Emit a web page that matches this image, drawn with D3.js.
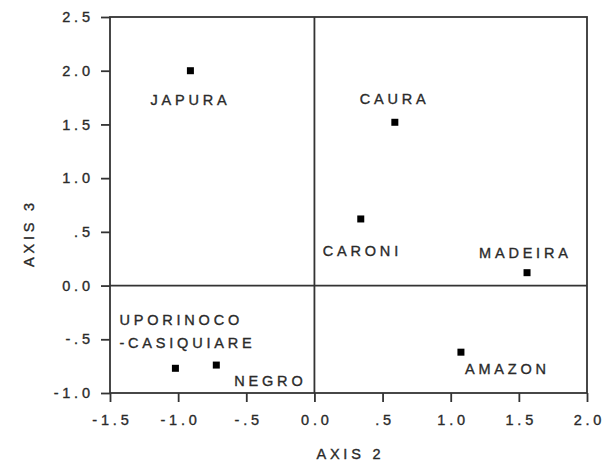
<!DOCTYPE html>
<html><head><meta charset="utf-8">
<script src="https://cdn.jsdelivr.net/npm/d3@7"></script>
<style>body{margin:0;background:#fff}svg{display:block}text{font-family:"Liberation Sans",Arial,sans-serif;fill:#2a2a2a;stroke:#2a2a2a;stroke-width:0.35px}</style>
</head><body><svg id="c" width="613" height="466"></svg>
<script>
const names = ["JAPURA","CAURA","CARONI","MADEIRA","AMAZON","UPORINOCO\n-CASIQUIARE","NEGRO"];
const axis2 = [-0.91, 0.59, 0.34, 1.56, 1.075, -1.02, -0.72];
const axis3 = [2.0, 1.52, 0.62, 0.12, -0.62, -0.77, -0.74];
const xTicks = [-1.5,-1.0,-0.5,0,0.5,1.0,1.5,2.0];
const xTickLabels = ["-1.5","-1.0","-.5","0.0",".5","1.0","1.5","2.0"];
const yTicks = [-1.0,-0.5,0,0.5,1.0,1.5,2.0,2.5];
const yTickLabels = ["-1.0","-.5","0.0",".5","1.0","1.5","2.0","2.5"];
// label layout offsets (px) relative to each point: [dx, dy]
const labelOffsets = [[-40,34],[-35,-18],[-38,37],[-48,-15],[4,22],[-56,-43],[18,21]];

const svg = d3.select("#c");
const L=110,R=587,T=17,B=393, LS=3.8, FS=14.5;
const x = d3.scaleLinear().domain([-1.5,2.0]).range([L,R]);
const y = d3.scaleLinear().domain([-1.0,2.5]).range([B,T]);
const stroke="#333";

const gx = svg.append("g").attr("transform",`translate(0,${B})`)
  .call(d3.axisBottom(x).tickValues(xTicks).tickSize(9).tickFormat((d,i)=>xTickLabels[i]).tickPadding(9));
const gy = svg.append("g").attr("transform",`translate(${L},0)`)
  .call(d3.axisLeft(y).tickValues(yTicks).tickSize(9).tickFormat((d,i)=>yTickLabels[i]).tickPadding(11));
[gx,gy].forEach(g=>{
  g.select(".domain").remove();
  g.selectAll(".tick line").attr("stroke",stroke).attr("stroke-width",1.8);
  g.selectAll(".tick text").attr("font-size",FS).style("letter-spacing",LS+"px")
    .attr("font-family",null).attr("fill","#2a2a2a");
});
gx.selectAll(".tick text").attr("dx",LS/2).attr("dy","0.95em");
gy.selectAll(".tick text").attr("dx",LS);

svg.append("rect").attr("x",L).attr("y",T).attr("width",R-L).attr("height",B-T)
  .attr("fill","none").attr("stroke",stroke).attr("stroke-width",1.8);
svg.append("line").attr("x1",x(0)).attr("x2",x(0)).attr("y1",T).attr("y2",B).attr("stroke",stroke).attr("stroke-width",1.8);
svg.append("line").attr("x1",L).attr("x2",R).attr("y1",y(0)).attr("y2",y(0)).attr("stroke",stroke).attr("stroke-width",1.8);

const pts = names.map((n,i)=>({n, a:axis2[i], b:axis3[i], o:labelOffsets[i]}));
svg.selectAll("rect.pt").data(pts).enter().append("rect").attr("class","pt")
  .attr("x",d=>x(d.a)-3.5).attr("y",d=>y(d.b)-3.5).attr("width",7).attr("height",7).attr("fill","#000");
const lab = svg.selectAll("text.lab").data(pts).enter().append("text").attr("class","lab")
  .attr("font-size",FS).style("letter-spacing",LS+"px");
lab.each(function(d){
  const lines=d.n.split("\n");
  d3.select(this).selectAll("tspan").data(lines).enter().append("tspan")
    .attr("x",x(d.a)+d.o[0]).attr("y",(l,j)=>y(d.b)+d.o[1]+j*23).text(l=>l);
});

svg.append("text").attr("x",(L+R)/2+LS/2).attr("y",459).attr("text-anchor","middle")
  .attr("font-size",FS).style("letter-spacing",LS+"px").text("AXIS 2");
svg.append("text").attr("transform","translate(34,233) rotate(-90)").attr("text-anchor","middle")
  .attr("font-size",FS).style("letter-spacing",LS+"px").text("AXIS 3");
</script></body></html>
